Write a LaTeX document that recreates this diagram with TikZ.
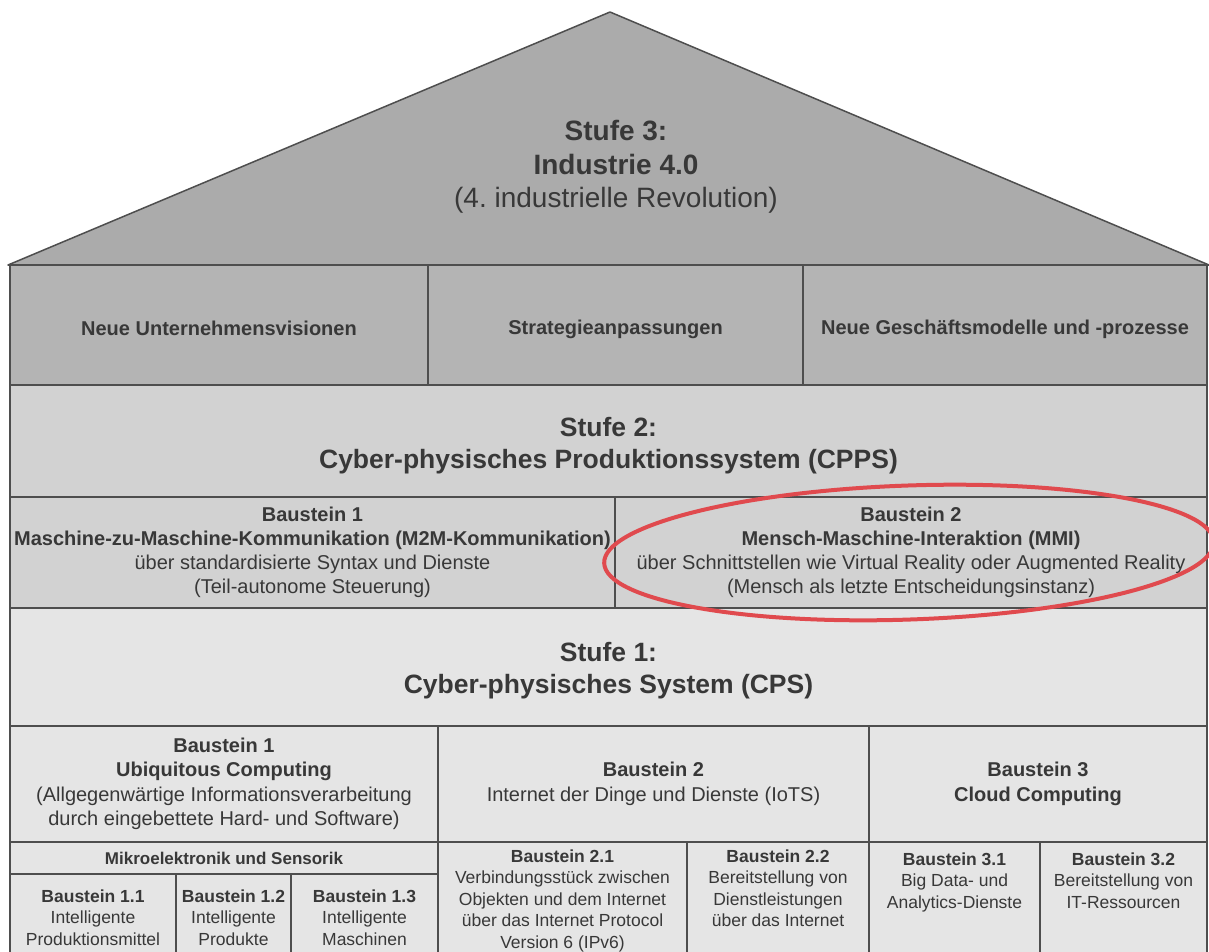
\documentclass[tikz,border=0pt]{standalone}
\usepackage{fontspec}
\setmainfont{Liberation Sans}
\usetikzlibrary{positioning}

\definecolor{linegray}{HTML}{4E4E4E}
\definecolor{textgray}{HTML}{383838}
\definecolor{roofgray}{HTML}{ABABAB}
\definecolor{visiongray}{HTML}{B4B4B4}
\definecolor{cppsgray}{HTML}{D2D2D2}
\definecolor{cpsgray}{HTML}{E5E5E5}
\definecolor{markred}{HTML}{E04A4E}

\begin{document}
\begin{tikzpicture}[x=1pt, y=-1pt,
  cell/.style={draw=linegray, line width=1.5pt, inner sep=0pt, text=textgray, align=center},
  plain/.style={inner sep=0pt, text=textgray, align=center},
  rooftext/.style={plain, font=\fontsize{28}{33.5}\selectfont},
  vision/.style={cell, fill=visiongray, minimum height=120, font=\bfseries\fontsize{20}{25}\selectfont,
                 execute at begin node={\rule[-3pt]{0pt}{26pt}}},
  header/.style={cell, minimum width=1197},
  headtext/.style={plain, font=\bfseries\fontsize{26.5}{32}\selectfont},
  cppsbox/.style={cell, fill=cppsgray, minimum height=111, font=\fontsize{20}{24}\selectfont},
  cpsbox/.style={cell, fill=cpsgray, minimum height=116, font=\fontsize{20}{24.5}\selectfont},
  subbox/.style={cell, fill=cpsgray},
  small/.style={plain, font=\fontsize{17.5}{21.5}\selectfont},
  highlight/.style={draw=markred, line width=4pt}
]
\useasboundingbox[fill=white] (0,0) rectangle (1209,951);

% Dach: Stufe 3
\draw[linegray, line width=1.5pt, fill=roofgray, line join=round]
  (8,265) -- (610,12) -- (1209,265) -- cycle;
\node[rooftext] (stufe3) at (616,167)
  {\textbf{Stufe 3:}\\\textbf{Industrie 4.0}\\(4.\ industrielle Revolution)};

% Visionen, Strategien, Geschaeftsmodelle
\node[vision, minimum width=418] (visionen) at (219,325) {Neue Unternehmensvisionen};
\node[vision, minimum width=375] (strategie) at (615.5,325) {Strategieanpassungen};
\node[vision, minimum width=404] (modelle) at (1005,325) {Neue Geschäftsmodelle und -prozesse};

% Stufe 2: CPPS
\node[header, fill=cppsgray, minimum height=112] (stufe2) at (608.5,441) {};
\node[headtext] (stufe2text) at ([yshift=-5pt]stufe2.center)
  {Stufe 2:\\Cyber-physisches Produktionssystem (CPPS)};
\node[cppsbox, minimum width=605] (m2m) at (312.5,552.5)
  {\textbf{Baustein 1}\\\textbf{Maschine-zu-Maschine-Kommunikation (M2M-Kommunikation)}\\
   über standardisierte Syntax und Dienste\\(Teil-autonome Steuerung)};
\node[cppsbox, minimum width=592] (mmi) at (911,552.5)
  {\textbf{Baustein 2}\\\textbf{Mensch-Maschine-Interaktion (MMI)}\\
   über Schnittstellen wie Virtual Reality oder Augmented Reality\\(Mensch als letzte Entscheidungsinstanz)};

% Stufe 1: CPS
\node[header, fill=cpsgray, minimum height=118] (stufe1) at (608.5,667) {};
\node[headtext] (stufe1text) at ([yshift=-4pt]stufe1.center)
  {Stufe 1:\\Cyber-physisches System (CPS)};
\node[cpsbox, minimum width=428] (ubi) at (224,784)
  {\textbf{Baustein 1}\\\textbf{Ubiquitous Computing}\\
   (Allgegenwärtige Informationsverarbeitung\\durch eingebettete Hard- und Software)};
\node[cpsbox, minimum width=431] (iots) at (653.5,784)
  {\textbf{Baustein 2}\\Internet der Dinge und Dienste (IoTS)};
\node[cpsbox, minimum width=338] (cloud) at (1038,784)
  {\textbf{Baustein 3}\\\textbf{Cloud Computing}};

% Bausteine der untersten Ebene
\node[subbox, minimum width=428, minimum height=32, font=\bfseries\fontsize{17}{20}\selectfont]
  (mikro) at (224,858) {Mikroelektronik und Sensorik};
\node[subbox, minimum width=166, minimum height=81] (b11) at (93,914.5) {};
\node[subbox, minimum width=115, minimum height=81] (b12) at (233.5,914.5) {};
\node[subbox, minimum width=147, minimum height=81] (b13) at (364.5,914.5) {};
\node[subbox, minimum width=249, minimum height=113] (b21) at (562.5,898.5) {};
\node[subbox, minimum width=182, minimum height=113] (b22) at (778,898.5) {};
\node[subbox, minimum width=171, minimum height=113] (b31) at (954.5,898.5) {};
\node[subbox, minimum width=167, minimum height=113] (b32) at (1123.5,898.5) {};

\node[small, below=16pt of b11.north] (t11) {\textbf{Baustein 1.1}\\Intelligente\\Produktionsmittel};
\node[small, below=16pt of b12.north] (t12) {\textbf{Baustein 1.2}\\Intelligente\\Produkte};
\node[small, below=16pt of b13.north] (t13) {\textbf{Baustein 1.3}\\Intelligente\\Maschinen};
\node[small, below=8pt of b21.north] (t21)
  {\textbf{Baustein 2.1}\\Verbindungsstück zwischen\\Objekten und dem Internet\\über das Internet Protocol\\Version 6 (IPv6)};
\node[small, below=8pt of b22.north] (t22)
  {\textbf{Baustein 2.2}\\Bereitstellung von\\Dienstleistungen\\über das Internet};
\node[small, below=11pt of b31.north] (t31) {\textbf{Baustein 3.1}\\Big Data- und\\Analytics-Dienste};
\node[small, below=11pt of b32.north] (t32) {\textbf{Baustein 3.2}\\Bereitstellung von\\IT-Ressourcen};

% Markierung MMI
\draw[highlight] (mmi.center) ++(-2,0) ellipse [x radius=305pt, y radius=67pt, rotate=2];
\end{tikzpicture}
\end{document}
